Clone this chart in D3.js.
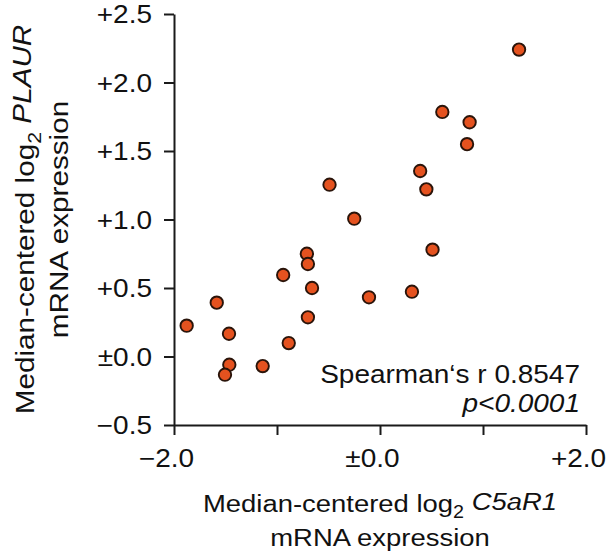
<!DOCTYPE html>
<html>
<head>
<meta charset="utf-8">
<script src="https://cdn.jsdelivr.net/npm/d3@7"></script>
<style>
  body { margin: 0; background: #fff; }
  svg { display: block; font-family: "Liberation Sans", Arial, sans-serif; }
</style>
</head>
<body>
<svg id="chart" width="608" height="553"></svg>
<script>
// values
const c5ar1 = [1.35, 0.605, 0.87, 0.845, 0.39, 0.45, -0.49, -0.25, 0.51, -0.71, -0.70, -0.94,
  -0.66, -0.107, 0.31, -1.585, -1.877, -1.466, -0.70, -0.886, -1.463, -1.505, -1.139];
const plaur = [2.24, 1.785, 1.71, 1.55, 1.354, 1.22, 1.254, 1.006, 0.78, 0.75, 0.675, 0.595,
  0.50, 0.432, 0.473, 0.393, 0.225, 0.166, 0.286, 0.098, -0.06, -0.133, -0.07];
const xTicks = [-2, -1, 0, 1, 2];
const xLabelled = [-2, 0, 2];
const yTicks = [-0.5, 0, 0.5, 1.0, 1.5, 2.0, 2.5];
const stats = ["Spearman\u2018s r 0.8547", "p<0.0001"];

const sx = 1.12; // the reference text is a bit wider than plain Arial

const svg = d3.select("#chart");
const x = d3.scaleLinear().domain([-2, 2]).range([174, 586]);
const y = d3.scaleLinear().domain([-0.5, 2.5]).range([425, 14]);

function signed(v) {
  if (v === 0) return "\u00b10.0";
  return d3.format("+.1f")(v);
}

// y axis
const yAxis = svg.append("g")
  .attr("transform", `translate(${x(-2)},0)`)
  .call(d3.axisLeft(y).tickValues(yTicks).tickSize(10).tickSizeOuter(0).tickFormat(signed));

// x axis
const xAxis = svg.append("g")
  .attr("transform", `translate(0,${y(-0.5)})`)
  .call(d3.axisBottom(x).tickValues(xTicks).tickSize(10).tickSizeOuter(0)
    .tickFormat(d => xLabelled.includes(d) ? signed(d) : ""));

[yAxis, xAxis].forEach(g => {
  g.select(".domain").attr("stroke", "#1a1a1a").attr("stroke-width", 2);
  g.selectAll(".tick line").attr("stroke", "#1a1a1a").attr("stroke-width", 2);
  g.selectAll(".tick text").attr("fill", "#111").style("font-size", "25px");
  g.attr("font-size", null).attr("font-family", null);
});

yAxis.selectAll(".tick text")
  .attr("x", -22 / sx)
  .attr("dy", "0.35em")
  .attr("transform", `scale(${sx},1)`);

xAxis.selectAll(".tick text")
  .attr("y", 24)
  .attr("dy", "0.71em")
  .attr("dx", -8 / sx)
  .attr("transform", `scale(${sx},1)`);

// points
svg.append("g")
  .selectAll("circle")
  .data(c5ar1.map((v, i) => [v, plaur[i]]))
  .join("circle")
  .attr("cx", d => x(d[0]))
  .attr("cy", d => y(d[1]))
  .attr("r", 6.2)
  .attr("fill", "#e5521f")
  .attr("stroke", "#2a140a")
  .attr("stroke-width", 1.9);

// axis titles
function title(g, gene, size, gap) {
  const t = g.append("text")
    .attr("text-anchor", "middle")
    .attr("fill", "#111")
    .style("font-size", size + "px");
  t.append("tspan").attr("x", 0).attr("y", 0).text("Median-centered log");
  t.append("tspan").attr("dy", "0.35em").style("font-size", "0.72em").text("2");
  t.append("tspan").attr("dy", -0.35 * size).text(" ");
  t.append("tspan").style("font-style", "italic").text(gene);
  t.append("tspan").attr("x", 0).attr("y", gap).text("mRNA expression");
}

title(svg.append("g")
  .attr("transform", `translate(${(x(-2) + x(2)) / 2},512) scale(${sx},1)`), "C5aR1", 24.5, 34);

title(svg.append("g")
  .attr("transform", `translate(34,${(y(-0.5) + y(2.5)) / 2}) rotate(-90) scale(${sx},1)`), "PLAUR", 26.5, 34);

// correlation note
const note = svg.append("g")
  .attr("transform", `translate(580,383) scale(${sx},1)`)
  .append("text")
  .attr("text-anchor", "end")
  .attr("fill", "#111")
  .style("font-size", "25px");
note.append("tspan").attr("x", 0).attr("y", 0).text(stats[0]);
note.append("tspan").attr("x", 0).attr("y", 29).style("font-style", "italic").text(stats[1]);
</script>
</body>
</html>
